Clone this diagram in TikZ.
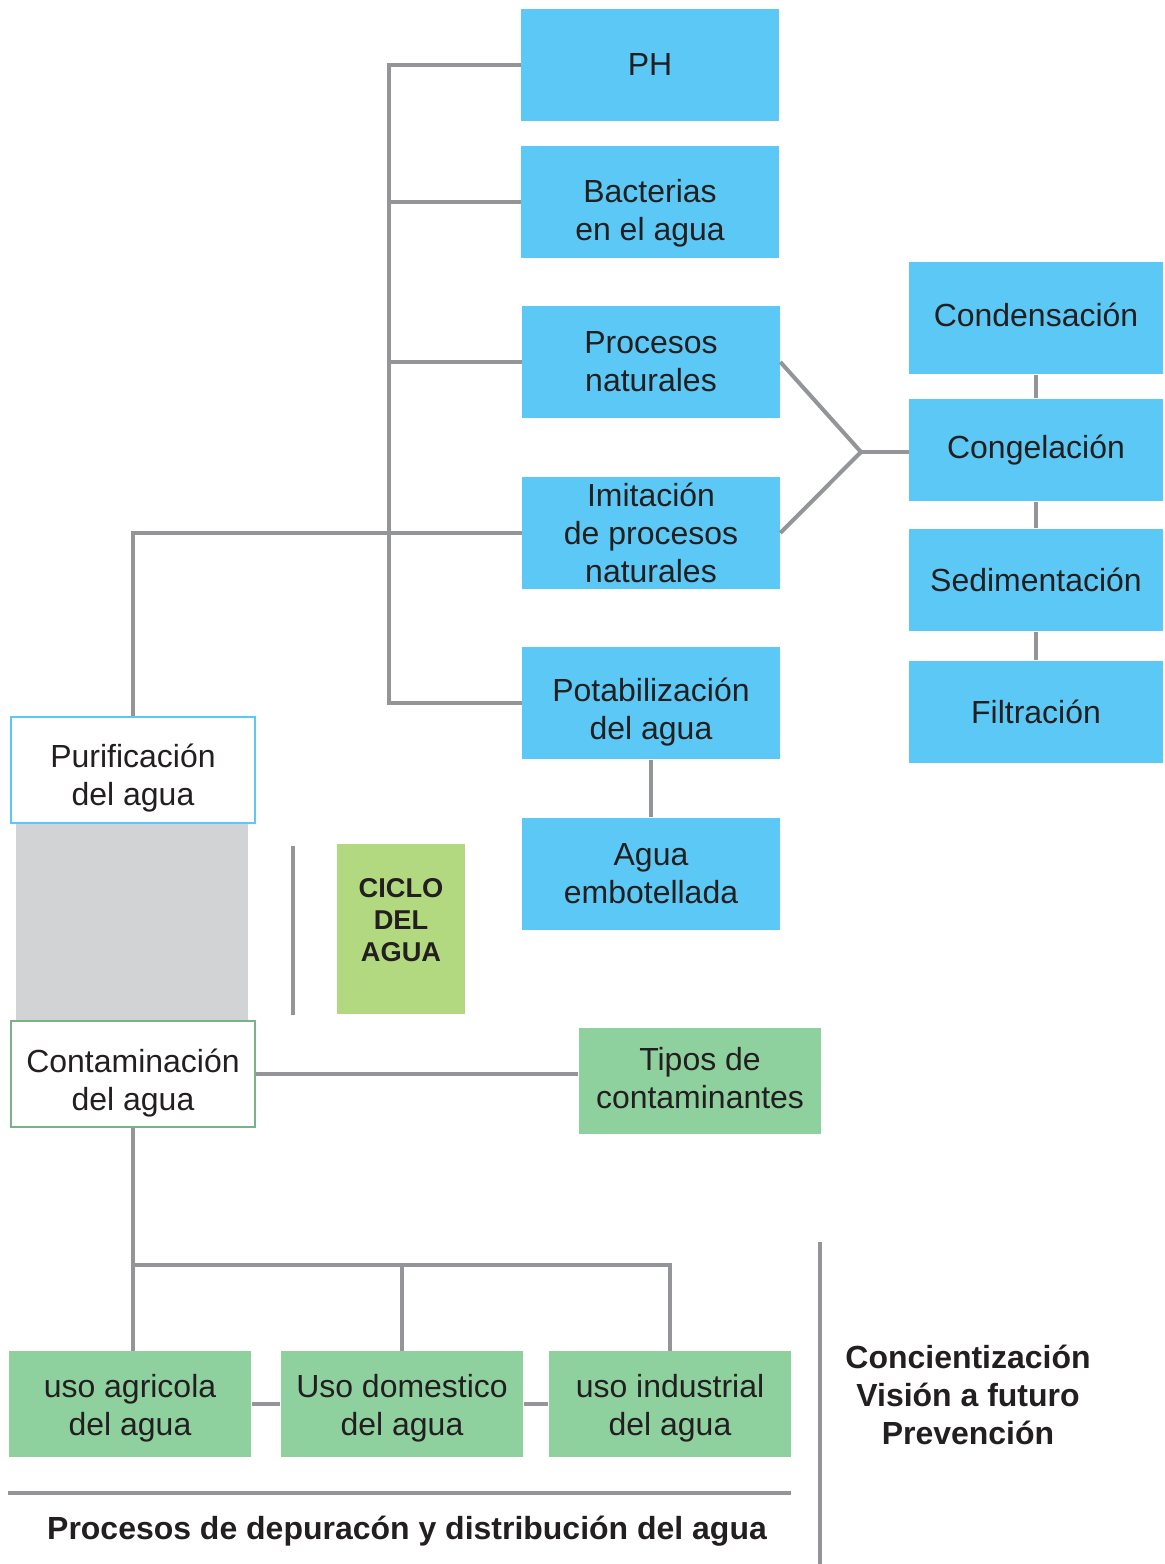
\documentclass[tikz,border=0pt]{standalone}
\usepackage{fontspec}
\setmainfont{Liberation Sans}
\usepackage{tikz}
\usetikzlibrary{positioning,calc}
\definecolor{cielo}{HTML}{5BC8F5}
\definecolor{hoja}{HTML}{8FD09F}
\definecolor{lima}{HTML}{B3D980}
\definecolor{lineagris}{HTML}{939598}
\definecolor{fondogris}{HTML}{D1D3D4}
\definecolor{tinta}{HTML}{231F20}
\newcommand{\bajar}[1]{\rule{0pt}{#1}}
\newcommand{\subir}[1]{\rule[-#1]{0pt}{0pt}}
\tikzset{
  caja/.style={
    rectangle,
    inner sep=0pt,
    text=tinta,
    align=center,
    font=\fontsize{18.2}{21.6}\selectfont},
  azul/.style={caja, fill=cielo, minimum width=5.16cm, minimum height=2.26cm},
  azulder/.style={caja, fill=cielo, minimum width=5.08cm, minimum height=2.06cm},
  verde/.style={caja, fill=hoja, minimum width=4.86cm, minimum height=2.12cm},
  marco/.style={caja, fill=white, very thick, minimum width=4.88cm, minimum height=2.12cm},
  link/.style={draw=lineagris, line width=2.3pt},
}
\begin{document}
\begin{tikzpicture}[
    x=0.02cm, y=-0.02cm,
    separador/.style={draw=lineagris, line width=2.3pt},
    titulo/.style={text=tinta, font=\bfseries\fontsize{18.2}{21.6}\selectfont, align=center}
    ]
    \useasboundingbox (0,0) rectangle (1164,1564);

    %grey band
    \fill[fondogris] (16,823) rectangle (248,1021);

    %left column
    \node[marco, draw=cielo] (purif) at (133,770) {\bajar{0.79cm}Purificación\\del agua};
    \node[marco, draw=hoja!85!black] (conta) at (133,1074) {\bajar{0.83cm}Contaminación\\del agua};

    %middle column
    \node[azul] (ph) at (650,65) {PH};
    \node[azul] (bact) at (650,202) {\bajar{0.9cm}Bacterias\\en el agua};
    \node[azul] (proc) at (651,362) {Procesos\\naturales};
    \node[azul] (imit) at (651,533) {Imitación\\de procesos\\naturales};
    \node[azul] (pota) at (651,703) {\bajar{0.82cm}Potabilización\\del agua};
    \node[azul] (embo) at (651,874) {Agua\\embotellada};

    %right column
    \node[azulder, minimum height=2.26cm] (conde) at (1036,318) {Condensación\subir{0.12cm}};
    \node[azulder] (conge) at (1036,450) {Congelación};
    \node[azulder] (sedi) at (1036,580) {Sedimentación};
    \node[azulder] (filt) at (1036,712) {Filtración};

    %ciclo
    \draw[separador] (293,846) -- (293,1015);
    \node[caja, fill=lima, minimum width=2.56cm, minimum height=3.4cm,
      font=\bfseries\fontsize{15.5}{18}\selectfont] (ciclo) at (401,929) {CICLO\\DEL\\AGUA\subir{0.36cm}};

    \node[verde] (tipos) at (700,1081) {Tipos de\\contaminantes\subir{0.12cm}};

    %usos
    \node[verde] (agri) at (130,1404) {\bajar{0.62cm}uso agricola\\del agua};
    \node[verde] (dome) at (402,1404) {\bajar{0.62cm}Uso domestico\\del agua};
    \node[verde] (indu) at (670,1404) {\bajar{0.62cm}uso industrial\\del agua};

    %trunk
    \coordinate (tkTop) at (389,65);
    \coordinate (tkBot) at (389,703);
    \draw[link] (ph.west) -- (tkTop) -- (tkBot) -- (pota.west);
    \draw[link] (bact.west) -- (bact.west -| tkTop);
    \draw[link] (proc.west) -- (proc.west -| tkTop);
    \draw[link] (purif.north) |- (imit.west);

    %fork
    \coordinate (fork) at (861,452);
    \draw[link] (proc.east) -- (fork) -- (imit.east);
    \draw[link] (fork) -- (fork -| conge.west);
    \draw[link] (conde.south) -- (conge.north);
    \draw[link] (conge.south) -- (sedi.north);
    \draw[link] (sedi.south) -- (filt.north);
    \draw[link] (pota.south) -- (embo.north);

    %contaminacion
    \draw[link] (conta.east) -- (conta.east -| tipos.west);
    \coordinate (bus) at (133,1265);
    \draw[link] (conta.south) -- (conta.south |- agri.north);
    \draw[link] (bus) -- (bus -| indu.north) -- (indu.north);
    \draw[link] (bus -| dome.north) -- (dome.north);
    \draw[link] (agri.east) -- (dome.west);
    \draw[link] (dome.east) -- (indu.west);

    %bottom
    \draw[separador] (8,1493) -- (791,1493);
    \draw[separador] (820,1242) -- (820,1564);
    \node[titulo] (depu) at (407,1531) {Procesos de depuracón y distribución del agua};
    \node[titulo] (conci) at (968,1395) {Concientización\\Visión a futuro\\Prevención};

\end{tikzpicture}
\end{document}
